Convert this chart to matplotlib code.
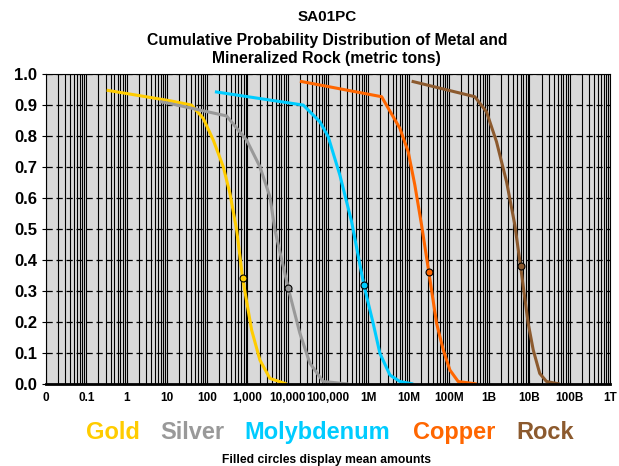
import numpy as np
import matplotlib
matplotlib.use('Agg')
import matplotlib.pyplot as plt
from matplotlib.ticker import FixedLocator, NullFormatter

plt.rcParams['font.family'] = ['Liberation Sans', 'DejaVu Sans']

# данные (тонны, кумулятивная вероятность)
gold_x = [0.32, 12, 41, 80, 142, 251, 368, 540, 760, 1271, 2042, 3615, 9400]
gold_y = [0.948, 0.914, 0.900, 0.857, 0.787, 0.701, 0.615, 0.497, 0.341,
          0.174, 0.077, 0.018, 0.0]
silver_x = [6.7, 12, 304, 955, 2042, 3615, 4810, 10300, 20000, 35500,
            76000, 316000]
silver_y = [0.911, 0.905, 0.865, 0.787, 0.701, 0.604, 0.497, 0.309, 0.164,
            0.067, 0.008, 0.0]
moly_x = [156, 24300, 63000, 101000, 197000, 385000, 777000, 1.32e6, 1.94e6,
          3.44e6, 6.08e6, 1.3e7]
moly_y = [0.943, 0.90, 0.846, 0.798, 0.674, 0.524, 0.319, 0.196, 0.099,
          0.029, 0.008, 0.0]
copper_x = [20100, 2.14e6, 6.08e6, 9.8e6, 1.43e7, 2.1e7, 3.19e7, 4.95e7,
            7.25e7, 1.06e8, 1.7e8, 4.9e8]
copper_y = [0.977, 0.927, 0.825, 0.749, 0.642, 0.513, 0.36, 0.196, 0.11,
            0.045, 0.008, 0.0]
rock_x = [1.19e7, 4.4e8, 8.6e8, 1.52e9, 2.7e9, 4.34e9, 6.0e9, 9.3e9, 1.24e10,
          1.8e10, 2.65e10, 5.6e10]
rock_y = [0.977, 0.927, 0.878, 0.782, 0.653, 0.513, 0.381, 0.196, 0.11,
          0.034, 0.008, 0.0]

# средние значения (закрашенные кружки)
mean_x = [760, 10300, 777000, 3.19e7, 6.0e9]
mean_y = [0.341, 0.309, 0.319, 0.36, 0.381]

names = ['Gold', 'Silver', 'Molybdenum', 'Copper', 'Rock']
colors = ['#FFCC00', '#999999', '#00CCFF', '#FF6600', '#8C5A2E']
series = [(gold_x, gold_y), (silver_x, silver_y), (moly_x, moly_y),
          (copper_x, copper_y), (rock_x, rock_y)]

tick_vals = [10.0 ** k for k in range(-2, 13)]
tick_labels = ['0', '0.1', '1', '10', '100', '1,000', '10,000', '100,000',
               '1M', '10M', '100M', '1B', '10B', '100B', '1T']

fig = plt.figure(figsize=(6.19, 4.66), dpi=100)
ax = fig.add_axes([0.0743, 0.176, 0.9112, 0.665])
ax.set_facecolor('#D9D9D9')
ax.set_xscale('log')
ax.set_xlim(0.01, 1e12)
ax.set_ylim(0, 1.0)

# вертикальная сетка (основная и вспомогательная)
minor = [m * 10.0 ** k for k in range(-2, 12) for m in range(2, 10)]
ax.xaxis.set_major_locator(FixedLocator(tick_vals))
ax.xaxis.set_minor_locator(FixedLocator(minor))
ax.xaxis.set_minor_formatter(NullFormatter())
ax.set_xticklabels(tick_labels, fontsize=8.5, fontweight='bold')
ax.grid(True, which='both', axis='x', color='black', linewidth=0.8)
ax.set_yticks(np.arange(0, 1.01, 0.1))
ax.set_yticklabels(['%.1f' % v for v in np.arange(0, 1.01, 0.1)],
                   fontsize=12, fontweight='bold')
ax.grid(True, which='major', axis='y', color='black', linestyle=(0, (5, 3)),
        linewidth=0.9)
ax.set_axisbelow(True)
ax.tick_params(axis='x', which='both', direction='in', length=3, pad=6)
ax.tick_params(axis='y', length=3)
ax.spines['bottom'].set_linewidth(2)

for (xs, ys), c in zip(series, colors):
    ax.plot(xs, ys, color=c, linewidth=2.2, solid_joinstyle='round',
            solid_capstyle='butt')
for mx, my, c in zip(mean_x, mean_y, colors):
    ax.plot(mx, my, 'o', color=c, markeredgecolor='black', markersize=5,
            markeredgewidth=0.8, zorder=5)

fig.text(0.528, 0.9635, 'SA01PC', fontsize=11, fontweight='bold',
         ha='center', va='center')
fig.text(0.528, 0.914, 'Cumulative Probability Distribution of Metal and',
         fontsize=11.3, fontweight='bold', ha='center', va='center')
fig.text(0.528, 0.8755, 'Mineralized Rock (metric tons)', fontsize=11.3,
         fontweight='bold', ha='center', va='center')

legend_pos = [0.183, 0.31, 0.512, 0.733, 0.88]
for nm, c, xp in zip(names, colors, legend_pos):
    fig.text(xp, 0.071, nm, color=c, fontsize=17, fontweight='bold',
             ha='center', va='center')
fig.text(0.528, 0.013, 'Filled circles display mean amounts', fontsize=8.7,
         fontweight='bold', ha='center', va='center')

fig.savefig('out.png', dpi=100)
